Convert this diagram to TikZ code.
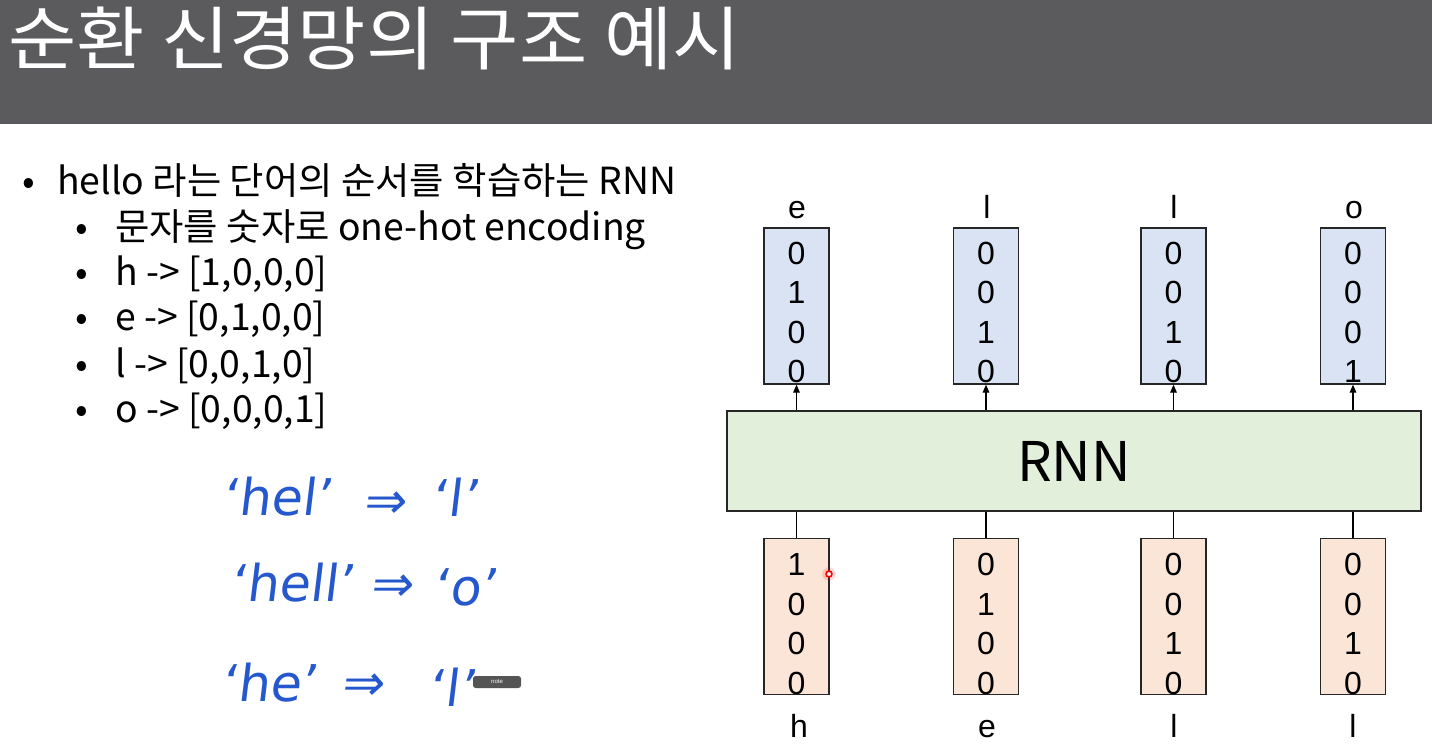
\documentclass[tikz,border=0pt]{standalone}
\usepackage{fontspec}
\setmainfont{Noto Sans CJK KR}
\newfontfamily\titlefont[FakeStretch=1.07]{Noto Sans CJK KR}
\newfontfamily\arialfont{Liberation Sans}
\newfontfamily\handfont[FakeSlant=0.12]{DejaVu Sans}
\usetikzlibrary{arrows.meta,positioning}
\definecolor{titlegray}{RGB}{91,91,93}
\definecolor{outblue}{RGB}{218,227,243}
\definecolor{inpeach}{RGB}{251,229,214}
\definecolor{rnngreen}{RGB}{226,239,218}
\definecolor{penblue}{RGB}{38,88,205}
\definecolor{notegray}{RGB}{85,85,85}
\tikzset{
	vecbox/.style={draw=black!85, line width=1pt, minimum width=48.75pt, minimum height=117pt, inner sep=0pt},
	outvec/.style={vecbox, fill=outblue},
	invec/.style={vecbox, fill=inpeach},
	digits/.style={font=\arialfont\fontsize{24}{29.6}\selectfont, align=center, inner sep=0pt},
	letter/.style={font=\arialfont\fontsize{24}{29}\selectfont, inner sep=0pt, anchor=base},
	bul/.style={font=\fontsize{28}{32}\selectfont, inner sep=0pt, anchor=base west},
	hand/.style={font=\handfont\fontsize{38}{44}\selectfont, text=penblue, inner sep=0pt}
}
\begin{document}
\begin{tikzpicture}[x=0.75pt, y=-0.75pt, >={Triangle[length=6pt,width=5pt]}]
	\useasboundingbox (0,0) rectangle (1432,753);
	\fill[white] (0,0) rectangle (1432,753);
	\fill[titlegray] (0,0) rectangle (1432,124);
	\node[anchor=base west, inner sep=0pt, text=white, font=\titlefont\fontsize{52}{56}\selectfont] (title) at (8,64) {순환 신경망의 구조 예시};

	\node[bul] (b1) at (22,194) {•};
	\node[bul] (t1) at (57,194) {hello 라는 단어의 순서를 학습하는 RNN};
	\node[bul] (b2) at (75,240) {•};
	\node[bul] (t2) at (115,240) {문자를 숫자로 one-hot encoding};
	\node[bul] (b3) at (75,285) {•};
	\node[bul] (t3) at (115,285) {h -> [1,0,0,0]};
	\node[bul] (b4) at (75,330) {•};
	\node[bul] (t4) at (115,330) {e -> [0,1,0,0]};
	\node[bul] (b5) at (75,377) {•};
	\node[bul] (t5) at (115,377) {l -> [0,0,1,0]};
	\node[bul] (b6) at (75,422) {•};
	\node[bul] (t6) at (115,422) {o -> [0,0,0,1]};

	\node[hand] (w1) at (277,497) {‘hel’};
	\node[hand] (a1) at (385,505) {⇒};
	\node[hand] (c1) at (455,497) {‘l’};
	\node[hand] (w2) at (292,583) {‘hell’};
	\node[hand] (a2) at (392,588) {⇒};
	\node[hand] (c2) at (465,587) {‘o’};
	\node[hand] (w3) at (269,683) {‘he’};
	\node[hand] (a3) at (363,687) {⇒};
	\node[hand] (c3) at (452,687) {‘l’};
	\node[fill=notegray, rounded corners=2pt, minimum width=36pt, minimum height=9pt, inner sep=0pt, text=white, font=\arialfont\fontsize{4.5}{5}\selectfont] (note) at (497,682) {note};

	\node[draw=black!85, line width=1pt, fill=rnngreen, minimum width=520.5pt, minimum height=75pt, font=\fontsize{41}{46}\selectfont] (rnn) at (1074,461) {RNN};

	\node[outvec] (o1) at (796.5,306) {};
	\node[outvec] (o2) at (986,306) {};
	\node[outvec] (o3) at (1173.5,306) {};
	\node[outvec] (o4) at (1353,306) {};
	\node[digits] (od1) at (796.5,312.5) {0\\1\\0\\0};
	\node[digits] (od2) at (986,312.5) {0\\0\\1\\0};
	\node[digits] (od3) at (1173.5,312.5) {0\\0\\1\\0};
	\node[digits] (od4) at (1353,312.5) {0\\0\\0\\1};
	\node[letter] (ol1) at (797,218) {e};
	\node[letter] (ol2) at (987,218) {l};
	\node[letter] (ol3) at (1174,218) {l};
	\node[letter] (ol4) at (1354,218) {o};

	\node[invec] (i1) at (796.5,616.5) {};
	\node[invec] (i2) at (986,616.5) {};
	\node[invec] (i3) at (1173.5,616.5) {};
	\node[invec] (i4) at (1353,616.5) {};
	\node[digits] (id1) at (796.5,624) {1\\0\\0\\0};
	\node[digits] (id2) at (986,624) {0\\1\\0\\0};
	\node[digits] (id3) at (1173.5,624) {0\\0\\1\\0};
	\node[digits] (id4) at (1353,624) {0\\0\\1\\0};
	\node[letter] (il1) at (799,737) {h};
	\node[letter] (il2) at (987,737) {e};
	\node[letter] (il3) at (1174,737) {l};
	\node[letter] (il4) at (1353,737) {l};

	\draw[->, line width=0.8pt] (rnn.north -| o1.south) -- (o1.south);
	\draw[->, line width=0.8pt] (rnn.north -| o2.south) -- (o2.south);
	\draw[->, line width=0.8pt] (rnn.north -| o3.south) -- (o3.south);
	\draw[->, line width=0.8pt] (rnn.north -| o4.south) -- (o4.south);
	\draw[line width=0.8pt] (i1.north) -- (rnn.south -| i1.north);
	\draw[line width=0.8pt] (i2.north) -- (rnn.south -| i2.north);
	\draw[line width=0.8pt] (i3.north) -- (rnn.south -| i3.north);
	\draw[line width=0.8pt] (i4.north) -- (rnn.south -| i4.north);

	\fill[red, opacity=0.15] (829,574) circle (5pt);
	\draw[red, line width=1.2pt, fill=white] (829,574) circle (2.2pt);
\end{tikzpicture}
\end{document}
